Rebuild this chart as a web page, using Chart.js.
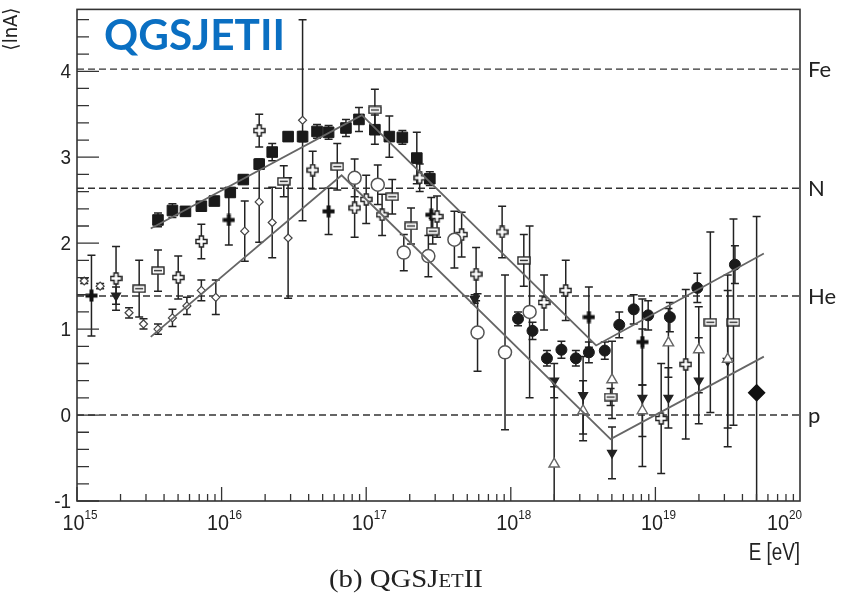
<!DOCTYPE html>
<html>
<head>
<meta charset="utf-8">
<script src="https://cdn.jsdelivr.net/npm/chart.js@4.4.1/dist/chart.umd.min.js"></script>
<style>
  html, body { margin: 0; padding: 0; background: #fff; }
</style>
</head>
<body>
<canvas id="c" width="852" height="594"></canvas>
<script>
// x values are log10(E / eV), y values are <lnA>

// filled squares (knee region)
const squaresX = [15.56, 15.66, 15.75, 15.86, 15.95, 16.06, 16.15, 16.26, 16.35, 16.46, 16.56, 16.66, 16.74, 16.86, 16.95, 17.06, 17.16, 17.25, 17.35, 17.44];
const squaresY = [2.27, 2.38, 2.37, 2.43, 2.49, 2.59, 2.74, 2.92, 3.06, 3.24, 3.24, 3.30, 3.29, 3.34, 3.44, 3.32, 3.24, 3.23, 2.99, 2.75];
const squaresErr = [0.08, 0.08, 0.05, 0.05, 0.05, 0.05, 0.05, 0.06, 0.1, 0.05, 0.06, 0.08, 0.08, 0.1, 0.14, 0.17, 0.24, 0.08, 0.3, 0.08];

// filled circles (ankle region)
const circlesX = [18.05, 18.15, 18.25, 18.35, 18.45, 18.54, 18.65, 18.75, 18.85, 18.95, 19.10, 19.29, 19.55];
const circlesY = [1.12, 0.98, 0.66, 0.76, 0.66, 0.73, 0.75, 1.05, 1.23, 1.16, 1.14, 1.48, 1.75];
const circlesErr = [0.08, 0.1, 0.09, 0.1, 0.09, 0.12, 0.1, 0.15, 0.17, 0.17, 0.17, 0.17, 0.22];

// open circles
const openCirclesX = [16.92, 17.08, 17.26, 17.43, 17.61, 17.77, 17.96, 18.13];
const openCirclesY = [2.76, 2.68, 1.89, 1.85, 2.04, 0.96, 0.73, 1.20];
const openCirclesErr = [0.22, 0.23, 0.21, 0.24, 0.33, 0.45, 0.9, 1.0];

// small open diamonds
const diamondsX = [15.05, 15.16, 15.36, 15.46, 15.56, 15.66, 15.76, 15.86, 15.96, 16.16, 16.26, 16.35, 16.46, 16.56];
const diamondsY = [1.56, 1.50, 1.19, 1.06, 1.00, 1.13, 1.27, 1.45, 1.37, 2.14, 2.48, 2.24, 2.06, 3.43];
const diamondsErr = [0.03, 0.03, 0.06, 0.06, 0.06, 0.1, 0.1, 0.12, 0.2, 0.35, 0.47, 0.41, 0.7, 1.17];

// open crosses
const openCrossX = [15.27, 15.86, 15.70, 16.26, 16.63, 16.92, 17.00, 17.11, 17.37, 17.49, 17.66, 17.76, 17.94, 18.23, 18.38, 19.04, 19.21];
const openCrossY = [1.59, 2.02, 1.60, 3.31, 2.85, 2.41, 2.51, 2.33, 2.76, 2.31, 2.10, 1.64, 2.13, 1.31, 1.45, -0.04, 0.59];
const openCrossErr = [0.37, 0.2, 0.25, 0.19, 0.22, 0.34, 0.28, 0.24, 0.16, 0.24, 0.26, 0.31, 0.3, 0.32, 0.35, 0.64, 0.87];

// open boxes with a bar
const boxesX = [15.43, 15.56, 16.43, 16.80, 17.06, 17.18, 17.31, 17.46, 18.09, 18.69, 19.38, 19.54];
const boxesY = [1.47, 1.68, 2.72, 2.89, 3.55, 2.54, 2.20, 2.14, 1.80, 0.21, 1.08, 1.08];
const boxesErr = [0.33, 0.24, 0.18, 0.27, 0.24, 0.2, 0.21, 0.15, 0.3, 0.1, 1.05, 1.2];

// filled crosses
const crossX = [15.10, 16.05, 16.74, 17.45, 18.54, 18.91];
const crossY = [1.39, 2.27, 2.37, 2.33, 1.14, 0.85];
const crossErr = [0.47, 0.29, 0.27, 0.2, 0.35, 0.5];

// filled down triangles
const downTriX = [15.27, 17.75, 18.30, 18.50, 18.70, 18.91, 19.09, 19.30, 19.50];
const downTriY = [1.39, 1.35, 0.40, 0.23, -0.44, 0.20, 0.20, 0.40, 0.63];
const downTriErr = [0.1, 0.05, 0.2, 0.45, 0.3, 0.8, 0.35, 0.5, 1.0];

// open up triangles
const upTriX = [18.30, 18.50, 18.70, 18.91, 19.09, 19.30, 19.50];
const upTriY = [-0.57, 0.05, 0.41, 0.05, 0.84, 0.76, 0.65];
const upTriErr = [0.9, 0.35, 0.45, 0.3, 0.4, 0.5, 0.8];

// big filled diamond
const bigDiamondX = [19.70];
const bigDiamondY = [0.26];
const bigDiamondErr = [2.05];

// model lines
const upperFitX = [15.51, 16.97, 18.59, 19.75];
const upperFitY = [2.17, 3.49, 0.81, 1.88];
const lowerFitX = [15.51, 16.83, 18.69, 19.75];
const lowerFitY = [0.91, 2.79, -0.28, 0.68];

// reference levels (ln A)
const levelValues = [4.025, 2.639, 1.386, 0];
const levelLabels = ['Fe', 'N', 'He', 'p'];

const xTicks = [15, 16, 17, 18, 19, 20];
const yTicks = [-1, 0, 1, 2, 3, 4];

const pts = (xs, ys) => xs.map((x, i) => ({ x: x, y: ys[i] }));

function makeMarker(w, h, draw) {
  const c = document.createElement('canvas');
  c.width = w; c.height = h;
  draw(c.getContext('2d'));
  return c;
}

const openPlus = makeMarker(13, 13, g => {
  g.beginPath();
  g.moveTo(4.5, 1); g.lineTo(8.5, 1); g.lineTo(8.5, 4.5); g.lineTo(12, 4.5); g.lineTo(12, 8.5);
  g.lineTo(8.5, 8.5); g.lineTo(8.5, 12); g.lineTo(4.5, 12); g.lineTo(4.5, 8.5); g.lineTo(1, 8.5);
  g.lineTo(1, 4.5); g.lineTo(4.5, 4.5); g.closePath();
  g.fillStyle = '#fff'; g.fill();
  g.strokeStyle = '#222'; g.lineWidth = 1.5; g.stroke();
});

const barBox = makeMarker(14, 9, g => {
  g.fillStyle = '#fff'; g.fillRect(1, 1, 12, 7);
  g.strokeStyle = '#222'; g.lineWidth = 1.4;
  g.strokeRect(1, 1, 12, 7);
  g.beginPath(); g.moveTo(3, 4.5); g.lineTo(11, 4.5); g.stroke();
});

const fullCross = makeMarker(13, 13, g => {
  g.fillStyle = '#111';
  g.fillRect(4.5, 0.5, 4, 12);
  g.fillRect(0.5, 4.5, 12, 4);
});

function markers(label, xs, ys, errs, style) {
  return Object.assign({
    label: label,
    data: pts(xs, ys),
    errs: errs,
    showLine: false,
    borderWidth: 1.4,
    borderColor: '#222',
    backgroundColor: '#111'
  }, style);
}

// draw text squeezed horizontally (the original uses a condensed face)
function fillSqueezed(ctx, text, x, y, align, sx) {
  const w = ctx.measureText(text).width * sx;
  let left = x;
  if (align === 'right') left = x - w;
  else if (align === 'center') left = x - w / 2;
  ctx.save();
  ctx.textAlign = 'left';
  ctx.translate(left, y);
  ctx.scale(sx, 1);
  ctx.fillText(text, 0, 0);
  ctx.restore();
}

const errorBars = {
  id: 'errorBars',
  beforeDatasetsDraw(chart) {
    const { ctx, chartArea: a, scales: { x, y } } = chart;
    ctx.save();
    ctx.beginPath();
    ctx.rect(a.left, a.top, a.right - a.left, a.bottom - a.top);
    ctx.clip();

    // dashed reference levels
    ctx.strokeStyle = '#333';
    ctx.lineWidth = 1.4;
    ctx.setLineDash([7, 4]);
    levelValues.forEach(v => {
      const py = y.getPixelForValue(v);
      ctx.beginPath(); ctx.moveTo(a.left, py); ctx.lineTo(a.right, py); ctx.stroke();
    });
    ctx.setLineDash([]);

    ctx.strokeStyle = '#222';
    ctx.lineWidth = 1.5;
    chart.data.datasets.forEach(ds => {
      if (!ds.errs) return;
      ds.data.forEach((p, i) => {
        const e = ds.errs[i];
        const px = x.getPixelForValue(p.x);
        const y1 = y.getPixelForValue(p.y + e);
        const y2 = y.getPixelForValue(p.y - e);
        ctx.beginPath();
        ctx.moveTo(px, y1); ctx.lineTo(px, y2);
        ctx.moveTo(px - 4, y1); ctx.lineTo(px + 4, y1);
        ctx.moveTo(px - 4, y2); ctx.lineTo(px + 4, y2);
        ctx.stroke();
      });
    });
    ctx.restore();
  },
  afterDraw(chart) {
    const { ctx, chartArea: a, scales: { x, y } } = chart;
    ctx.save();

    // frame
    ctx.strokeStyle = '#333';
    ctx.lineWidth = 1.6;
    ctx.strokeRect(a.left, a.top, a.right - a.left, a.bottom - a.top);

    // inward ticks
    ctx.lineWidth = 1.3;
    ctx.beginPath();
    for (let d = 15; d < 20; d++) {
      for (let k = 1; k <= 9; k++) {
        const px = x.getPixelForValue(d + Math.log10(k));
        const len = k === 1 ? 14 : 7;
        ctx.moveTo(px, a.bottom); ctx.lineTo(px, a.bottom - len);
      }
    }
    for (let v = -1; v <= 4.7; v += 0.2) {
      const r = Math.round(v * 10) / 10;
      const py = y.getPixelForValue(r);
      const len = Math.abs(r - Math.round(r)) < 1e-6 ? 22 : 12;
      ctx.moveTo(a.left, py); ctx.lineTo(a.left + len, py);
    }
    ctx.stroke();

    ctx.fillStyle = '#222';
    const sans = "'Liberation Sans', Arial, sans-serif";

    // y tick labels
    ctx.font = '21px ' + sans;
    ctx.textBaseline = 'middle';
    yTicks.forEach(v => fillSqueezed(ctx, String(v), a.left - 6, y.getPixelForValue(v) + 1, 'right', 0.9));

    // x tick labels 10^n
    ctx.textBaseline = 'alphabetic';
    ctx.textAlign = 'left';
    xTicks.forEach(n => {
      ctx.font = '22px ' + sans;
      const w1 = ctx.measureText('10').width * 0.9;
      ctx.font = '13px ' + sans;
      const w2 = ctx.measureText(String(n)).width * 0.9;
      let left = x.getPixelForValue(n) - (w1 + w2) / 2 + 3;
      if (left + w1 + w2 > a.right + 2) left = a.right + 2 - w1 - w2;
      ctx.font = '22px ' + sans;
      fillSqueezed(ctx, '10', left, a.bottom + 29, 'left', 0.9);
      ctx.font = '13px ' + sans;
      fillSqueezed(ctx, String(n), left + w1, a.bottom + 18, 'left', 0.9);
    });

    // axis titles
    ctx.font = '23px ' + sans;
    fillSqueezed(ctx, 'E [eV]', a.right, a.bottom + 59, 'right', 0.82);

    ctx.save();
    ctx.translate(17, 29);
    ctx.rotate(-Math.PI / 2);
    ctx.textAlign = 'center';
    ctx.font = "20px 'DejaVu Sans Condensed', 'DejaVu Sans', sans-serif";
    ctx.fillText('\u27E8lnA\u27E9', 0, 0);
    ctx.restore();

    // level names at right
    ctx.font = "22px Lato, 'Open Sans', sans-serif";
    ctx.textAlign = 'left';
    ctx.textBaseline = 'middle';
    levelValues.forEach((v, i) => ctx.fillText(levelLabels[i], a.right + 8, y.getPixelForValue(v) + 1));

    // caption "(b) QGSJETII" with small caps
    ctx.textBaseline = 'alphabetic';
    const serif = "'Liberation Serif', 'DejaVu Serif', serif";
    const parts = [['(b) QGSJ', 25], ['ET', 18], ['II', 25]];
    let total = 0;
    parts.forEach(([t, s]) => { ctx.font = s + 'px ' + serif; total += ctx.measureText(t).width; });
    ctx.save();
    ctx.translate(329, 587);
    ctx.scale(Math.min(1.15, 158 / total), 1);
    let cx = 0;
    parts.forEach(([t, s]) => {
      ctx.font = s + 'px ' + serif;
      ctx.fillText(t, cx, 0);
      cx += ctx.measureText(t).width;
    });
    ctx.restore();

    // blue model title
    ctx.font = "bold 42px Lato, 'Open Sans', sans-serif";
    ctx.fillStyle = '#0a6fc2';
    const tw = ctx.measureText('QGSJETII').width;
    ctx.save();
    ctx.translate(104, 50);
    ctx.scale(181 / tw, 1);
    ctx.fillText('QGSJETII', 0, 0);
    ctx.restore();

    ctx.restore();
  }
};

new Chart(document.getElementById('c').getContext('2d'), {
  type: 'scatter',
  data: {
    datasets: [
      markers('upper model', upperFitX, upperFitY, null, {
        showLine: true, pointRadius: 0, borderColor: '#666', borderWidth: 1.8, errs: null
      }),
      markers('lower model', lowerFitX, lowerFitY, null, {
        showLine: true, pointRadius: 0, borderColor: '#666', borderWidth: 1.8, errs: null
      }),
      markers('diamonds', diamondsX, diamondsY, diamondsErr, {
        pointStyle: 'rectRot', pointRadius: 4, backgroundColor: '#fff', borderColor: '#444', borderWidth: 1.2
      }),
      markers('open circles', openCirclesX, openCirclesY, openCirclesErr, {
        pointStyle: 'circle', pointRadius: 6.5, backgroundColor: '#fff', borderColor: '#555', borderWidth: 1.5
      }),
      markers('boxes', boxesX, boxesY, boxesErr, { pointStyle: barBox }),
      markers('open crosses', openCrossX, openCrossY, openCrossErr, { pointStyle: openPlus }),
      markers('up triangles', upTriX, upTriY, upTriErr, {
        pointStyle: 'triangle', pointRadius: 6, backgroundColor: '#fff', borderColor: '#666', borderWidth: 1.4
      }),
      markers('down triangles', downTriX, downTriY, downTriErr, {
        pointStyle: 'triangle', rotation: 180, pointRadius: 5, backgroundColor: '#222', borderColor: '#222'
      }),
      markers('crosses', crossX, crossY, crossErr, { pointStyle: fullCross }),
      markers('squares', squaresX, squaresY, squaresErr, {
        pointStyle: 'rect', pointRadius: 7.5, backgroundColor: '#1a1a1a', borderColor: '#1a1a1a', borderWidth: 1
      }),
      markers('circles', circlesX, circlesY, circlesErr, {
        pointStyle: 'circle', pointRadius: 5.5, backgroundColor: '#1a1a1a', borderColor: '#1a1a1a', borderWidth: 1
      }),
      markers('big diamond', bigDiamondX, bigDiamondY, bigDiamondErr, {
        pointStyle: 'rectRot', pointRadius: 8, backgroundColor: '#111', borderColor: '#111'
      })
    ]
  },
  options: {
    responsive: false,
    animation: false,
    devicePixelRatio: 1,
    layout: { padding: { left: 77, right: 52, top: 7, bottom: 93 } },
    plugins: {
      legend: { display: false },
      tooltip: { enabled: false }
    },
    scales: {
      x: { type: 'linear', min: 15, max: 20, display: false },
      y: { type: 'linear', min: -1, max: 4.72, display: false }
    }
  },
  plugins: [errorBars]
});
</script>
</body>
</html>
